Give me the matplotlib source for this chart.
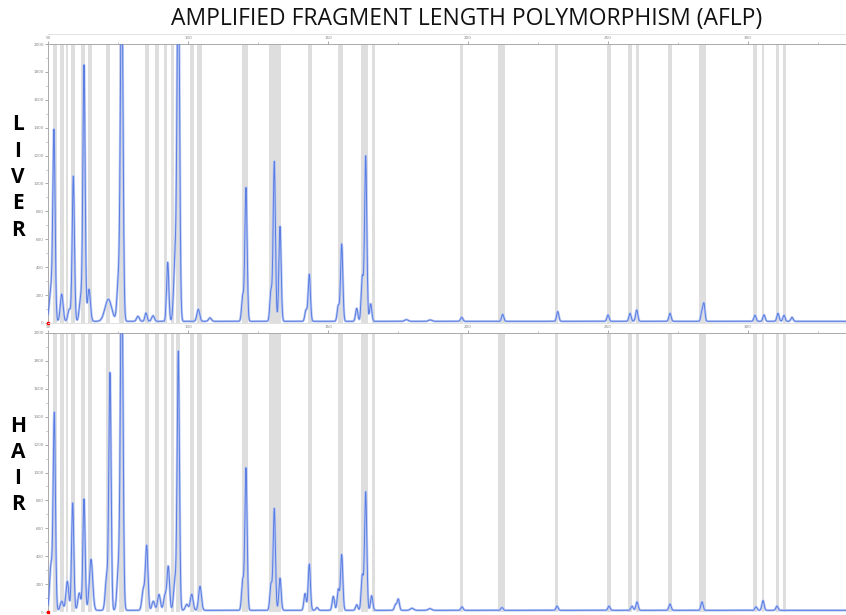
import numpy as np
import matplotlib
matplotlib.use('Agg')
import matplotlib.pyplot as plt

# Fragment size axis (bp) and bin bands (centre, width in bp)
x_range = (50, 335)
band_centers = [52.5, 55.0, 56.8, 58.9, 62.5, 65.0, 71.4, 76.1, 85.25, 88.8,
                91.9, 94.3, 96.5, 101.3, 104.0, 120.4, 130.4, 132.5, 143.6, 154.5,
                163.0, 166.25, 197.7, 212.1, 231.6, 250.4, 257.9, 260.5, 272.1,
                283.75, 302.5, 305.4, 310.5, 313.0]
band_widths = [1.1, 1.1, 0.7, 1.4, 1.1, 1.4, 1.4, 1.8, 1.4, 1.4,
               1.1, 1.1, 1.4, 1.4, 1.8, 2.1, 2.8, 1.1, 1.4, 1.8,
               2.5, 1.1, 1.1, 2.5, 1.1, 1.4, 1.4, 1.1, 1.4,
               2.5, 1.4, 0.7, 1.1, 1.1]

# Peaks: (size bp, height RFU, peak width bp)
liver_peaks = [
    (51.07, 230, 0.6), (52.14, 1330, 0.4), (54.89, 195, 0.5), (57.61, 86, 0.5),
    (59.04, 1040, 0.4), (61.68, 167, 0.5), (62.86, 1828, 0.4), (64.64, 230, 0.5),
    (71.54, 158, 1.2), (75.11, 275, 0.5), (76.32, 2600, 0.45), (82.14, 36, 0.5),
    (85.0, 60, 0.4), (87.5, 40, 0.5), (92.75, 423, 0.4), (95.36, 423, 0.5),
    (96.54, 2600, 0.45), (103.68, 86, 0.5), (107.86, 25, 0.5),
    (119.54, 180, 0.4), (120.71, 958, 0.4), (129.64, 218, 0.4), (130.82, 1144, 0.4),
    (132.86, 681, 0.4), (142.14, 80, 0.4), (143.32, 337, 0.4), (153.68, 112, 0.4),
    (154.89, 554, 0.4), (160.25, 93, 0.4), (162.25, 318, 0.4), (163.46, 1184, 0.4),
    (165.25, 125, 0.4), (178.0, 12, 0.6), (186.5, 10, 0.6), (197.75, 29, 0.4),
    (212.39, 50, 0.4), (232.04, 70, 0.4), (250.0, 45, 0.4), (257.86, 57, 0.4),
    (260.25, 81, 0.4), (272.14, 57, 0.4), (283.57, 70, 0.4), (284.29, 117, 0.35),
    (302.5, 43, 0.4), (305.71, 46, 0.4), (310.71, 57, 0.4), (312.86, 43, 0.4),
    (315.71, 29, 0.4),
]
hair_peaks = [
    (51.07, 320, 0.5), (52.25, 1400, 0.4), (54.89, 65, 0.5), (56.89, 208, 0.5),
    (58.82, 770, 0.4), (61.18, 124, 0.5), (62.86, 798, 0.4), (65.36, 366, 0.6),
    (70.96, 239, 0.5), (72.14, 1690, 0.4), (75.11, 272, 0.5), (76.32, 2600, 0.45),
    (84.04, 148, 0.5), (85.25, 459, 0.45), (87.61, 65, 0.5), (89.64, 114, 0.5),
    (91.79, 108, 0.5), (92.96, 310, 0.45), (95.36, 215, 0.5), (96.54, 1845, 0.4),
    (99.54, 43, 0.5), (101.32, 115, 0.5), (104.29, 172, 0.5),
    (119.54, 213, 0.4), (120.71, 1020, 0.4), (129.64, 186, 0.4), (130.82, 729, 0.4),
    (132.86, 231, 0.4), (141.79, 120, 0.4), (143.32, 332, 0.4), (146.07, 20, 0.4),
    (151.89, 100, 0.4), (153.68, 150, 0.4), (154.89, 399, 0.4), (160.25, 40, 0.4),
    (162.25, 250, 0.4), (163.46, 848, 0.4), (165.6, 105, 0.4), (174.1, 40, 0.4),
    (175.1, 80, 0.4), (180.0, 15, 0.6), (186.4, 12, 0.6), (197.86, 25, 0.4),
    (212.14, 20, 0.4), (231.8, 30, 0.4), (250.36, 30, 0.4), (258.57, 30, 0.4),
    (260.36, 60, 0.4), (272.14, 45, 0.4), (283.57, 60, 0.4), (302.86, 25, 0.4),
    (305.36, 70, 0.4), (310.36, 30, 0.4),
]
baseline = 12

x_ticks = [50, 100, 150, 200, 250, 300]
y_ticks = list(range(0, 2001, 200))


def trace(peaks, xs):
    y = np.full_like(xs, baseline, dtype=float)
    for pos, h, w in peaks:
        y += h * np.exp(-0.5 * ((xs - pos) / w) ** 2)
    return y


W, H = 846, 615
fig = plt.figure(figsize=(W / 100, H / 100), dpi=100)

xs = np.linspace(x_range[0], x_range[1], 8000)

# (top px, bottom px) of each panel
panels = [(liver_peaks, 44, 323), (hair_peaks, 333, 612)]
for peaks, top, bot in panels:
    ax = fig.add_axes([48 / W, 1 - bot / H, 1 - 48 / W, (bot - top) / H])
    for c, w in zip(band_centers, band_widths):
        ax.axvspan(c - w / 2, c + w / 2, color='#dedede', lw=0, zorder=0)
    y = trace(peaks, xs)
    ax.plot(xs, y, color='#bccaf3', lw=1.8, zorder=2)
    ax.plot(xs, y, color='#5a7de2', lw=0.7, zorder=3)
    ax.plot([50], [0], 's', ms=2, color='red', clip_on=False, zorder=4)
    ax.set_xlim(*x_range)
    ax.set_ylim(0, 2000)
    ax.xaxis.tick_top()
    ax.set_xticks(x_ticks)
    ax.set_xticks([75, 125, 175, 225, 275, 325], minor=True)
    ax.set_yticks(y_ticks)
    ax.set_yticks(range(100, 2000, 200), minor=True)
    ax.tick_params(labelsize=3, colors='#888888', length=2, width=0.5, pad=1)
    ax.tick_params(which='minor', length=1.5, width=0.4, colors='#999999')
    for s in ['right', 'bottom']:
        ax.spines[s].set_visible(False)
    for s in ['left', 'top']:
        ax.spines[s].set_color('#aaaaaa')
        ax.spines[s].set_linewidth(0.7)
    ax.set_facecolor('white')
    # thin line over the tick-label strip
    fig.add_artist(plt.Line2D([48 / W, 1], [1 - (top - 10) / H] * 2,
                              color='#dddddd', lw=0.6))

fig.text(467 / W, 1 - 19 / H, 'AMPLIFIED FRAGMENT LENGTH POLYMORPHISM (AFLP)',
         ha='center', va='center', fontsize=16.5, family='Open Sans', color='#111111')

for i, ch in enumerate('LIVER'):
    fig.text(18 / W, 1 - (125 + i * 26.3) / H, ch, ha='center', va='center',
             fontsize=15, weight='bold', family='Open Sans')
for i, ch in enumerate('HAIR'):
    fig.text(18 / W, 1 - (427 + i * 26) / H, ch, ha='center', va='center',
             fontsize=15, weight='bold', family='Open Sans')

fig.savefig('out.png', dpi=100)
